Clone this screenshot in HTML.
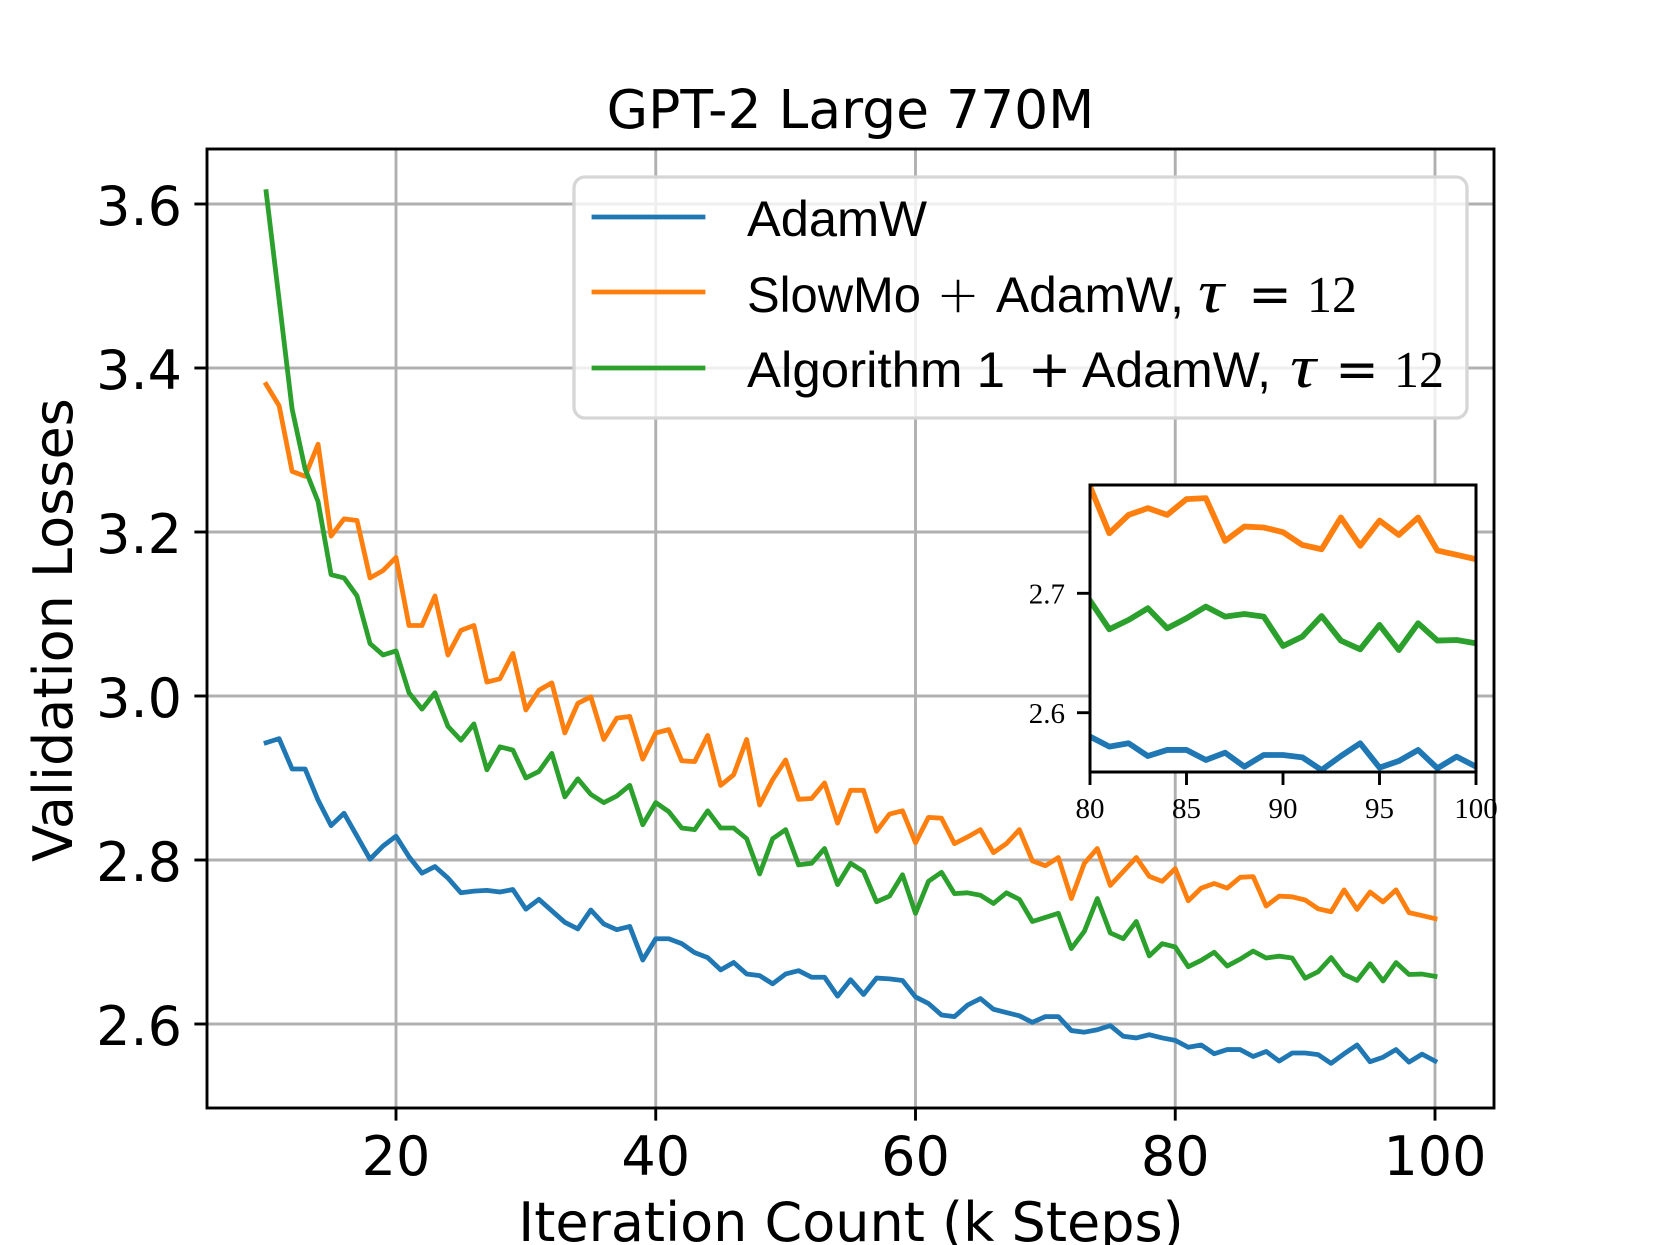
<!DOCTYPE html>
<html>
<head>
<meta charset="utf-8">
<style>
  html,body{margin:0;padding:0;background:#fff;}
  svg{display:block;}
</style>
</head>
<body>
<svg width="1660" height="1245" viewBox="0 0 1660 1245" xmlns="http://www.w3.org/2000/svg">
  <rect x="0" y="0" width="1660" height="1245" fill="#ffffff"/>
  <defs>
    <clipPath id="insetclip"><rect x="1090" y="485" width="386" height="287"/></clipPath>
    <clipPath id="mainclip"><rect x="207" y="149" width="1287" height="959"/></clipPath>
  </defs>

  <!-- Title -->
  <text x="850.5" y="128" text-anchor="middle" font-family="'DejaVu Sans', 'Liberation Sans', sans-serif" font-size="53.5" fill="#000">GPT-2 Large 770M</text>

  <!-- Grid -->
  <g stroke="#b0b0b0" stroke-width="2.9" fill="none">
    <line x1="396" y1="149" x2="396" y2="1108"/>
    <line x1="655.75" y1="149" x2="655.75" y2="1108"/>
    <line x1="915.5" y1="149" x2="915.5" y2="1108"/>
    <line x1="1175.25" y1="149" x2="1175.25" y2="1108"/>
    <line x1="1435" y1="149" x2="1435" y2="1108"/>
    <line x1="207" y1="204" x2="1494" y2="204"/>
    <line x1="207" y1="368" x2="1494" y2="368"/>
    <line x1="207" y1="532" x2="1494" y2="532"/>
    <line x1="207" y1="696" x2="1494" y2="696"/>
    <line x1="207" y1="860" x2="1494" y2="860"/>
    <line x1="207" y1="1024" x2="1494" y2="1024"/>
  </g>

  <!-- Main series -->
  <g clip-path="url(#mainclip)">
    <g transform="matrix(12.9875 0 0 -820 136.25 3156)" fill="none" stroke-linejoin="round" stroke-linecap="square">
      <polyline vector-effect="non-scaling-stroke" stroke="#1f77b4" stroke-width="4.8" points="10,2.943 11,2.948 12,2.911 13,2.911 14,2.873 15,2.842 16,2.857 17,2.829 18,2.801 19,2.817 20,2.829 21,2.804 22,2.784 23,2.792 24,2.778 25,2.760 26,2.762 27,2.763 28,2.761 29,2.764 30,2.740 31,2.752 32,2.738 33,2.724 34,2.716 35,2.739 36,2.722 37,2.715 38,2.719 39,2.678 40,2.704 41,2.704 42,2.698 43,2.687 44,2.681 45,2.666 46,2.675 47,2.661 48,2.659 49,2.649 50,2.661 51,2.665 52,2.657 53,2.657 54,2.634 55,2.654 56,2.636 57,2.656 58,2.655 59,2.653 60,2.633 61,2.625 62,2.611 63,2.609 64,2.623 65,2.631 66,2.618 67,2.614 68,2.610 69,2.602 70,2.609 71,2.609 72,2.592 73,2.590 74,2.593 75,2.598 76,2.585 77,2.583 78,2.587 79,2.583 80,2.580 81,2.5716 82,2.5744 83,2.5637 84,2.5688 85,2.5688 86,2.5604 87,2.5665 88,2.5548 89,2.5646 90,2.5646 91,2.5626 92,2.5520 93,2.5637 94,2.5744 95,2.5540 96,2.5595 97,2.5688 98,2.5535 99,2.5632 100,2.5548"/>
      <polyline vector-effect="non-scaling-stroke" stroke="#ff7f0e" stroke-width="4.8" points="10,3.380 11,3.354 12,3.274 13,3.268 14,3.307 15,3.195 16,3.216 17,3.214 18,3.144 19,3.153 20,3.169 21,3.086 22,3.086 23,3.122 24,3.050 25,3.080 26,3.086 27,3.017 28,3.021 29,3.052 30,2.983 31,3.007 32,3.016 33,2.955 34,2.991 35,2.999 36,2.947 37,2.973 38,2.975 39,2.923 40,2.955 41,2.959 42,2.921 43,2.920 44,2.952 45,2.891 46,2.904 47,2.947 48,2.867 49,2.898 50,2.922 51,2.874 52,2.875 53,2.894 54,2.845 55,2.885 56,2.885 57,2.835 58,2.856 59,2.860 60,2.821 61,2.852 62,2.851 63,2.820 64,2.828 65,2.837 66,2.809 67,2.820 68,2.837 69,2.799 70,2.793 71,2.803 72,2.753 73,2.796 74,2.814 75,2.769 76,2.786 77,2.803 78,2.780 79,2.774 80,2.7895 81,2.7503 82,2.7657 83,2.7713 84,2.7657 85,2.7789 86,2.7797 87,2.7439 88,2.7559 89,2.7551 90,2.7512 91,2.7405 92,2.7369 93,2.7635 94,2.7397 95,2.7609 96,2.7489 97,2.7635 98,2.7358 99,2.7322 100,2.7285"/>
      <polyline vector-effect="non-scaling-stroke" stroke="#2ca02c" stroke-width="4.8" points="10,3.615 11,3.483 12,3.350 13,3.277 14,3.237 15,3.148 16,3.144 17,3.122 18,3.064 19,3.050 20,3.055 21,3.004 22,2.984 23,3.004 24,2.963 25,2.946 26,2.966 27,2.910 28,2.938 29,2.934 30,2.900 31,2.908 32,2.930 33,2.877 34,2.899 35,2.880 36,2.870 37,2.878 38,2.891 39,2.843 40,2.870 41,2.859 42,2.839 43,2.837 44,2.860 45,2.839 46,2.839 47,2.826 48,2.783 49,2.826 50,2.837 51,2.794 52,2.796 53,2.814 54,2.770 55,2.796 56,2.786 57,2.749 58,2.756 59,2.782 60,2.735 61,2.774 62,2.785 63,2.759 64,2.760 65,2.757 66,2.747 67,2.760 68,2.752 69,2.725 70,2.730 71,2.735 72,2.692 73,2.713 74,2.753 75,2.711 76,2.704 77,2.725 78,2.683 79,2.698 80,2.6939 81,2.6699 82,2.6777 83,2.6875 84,2.6707 85,2.6791 86,2.6889 87,2.6805 88,2.6827 89,2.6805 90,2.6559 91,2.6637 92,2.6810 93,2.6604 94,2.6531 95,2.6735 96,2.6525 97,2.6749 98,2.6604 99,2.6609 100,2.6581"/>
    </g>
  </g>

  <!-- Main spines -->
  <rect x="207" y="149" width="1287" height="959" fill="none" stroke="#000" stroke-width="2.9"/>

  <!-- Ticks -->
  <g stroke="#000" stroke-width="2.9">
    <line x1="194.4" y1="204" x2="207" y2="204"/>
    <line x1="194.4" y1="368" x2="207" y2="368"/>
    <line x1="194.4" y1="532" x2="207" y2="532"/>
    <line x1="194.4" y1="696" x2="207" y2="696"/>
    <line x1="194.4" y1="860" x2="207" y2="860"/>
    <line x1="194.4" y1="1024" x2="207" y2="1024"/>
    <line x1="396" y1="1108" x2="396" y2="1120.6"/>
    <line x1="655.75" y1="1108" x2="655.75" y2="1120.6"/>
    <line x1="915.5" y1="1108" x2="915.5" y2="1120.6"/>
    <line x1="1175.25" y1="1108" x2="1175.25" y2="1120.6"/>
    <line x1="1435" y1="1108" x2="1435" y2="1120.6"/>
  </g>

  <!-- Tick labels -->
  <g font-family="'DejaVu Sans', 'Liberation Sans', sans-serif" font-size="54" fill="#000">
    <text x="182" y="225" text-anchor="end">3.6</text>
    <text x="182" y="389" text-anchor="end">3.4</text>
    <text x="182" y="553" text-anchor="end">3.2</text>
    <text x="182" y="717" text-anchor="end">3.0</text>
    <text x="182" y="881" text-anchor="end">2.8</text>
    <text x="182" y="1045" text-anchor="end">2.6</text>
    <text x="396" y="1175" text-anchor="middle">20</text>
    <text x="655.75" y="1175" text-anchor="middle">40</text>
    <text x="915.5" y="1175" text-anchor="middle">60</text>
    <text x="1175.25" y="1175" text-anchor="middle">80</text>
    <text x="1435" y="1175" text-anchor="middle">100</text>
  </g>

  <!-- Axis labels -->
  <text x="851" y="1241" text-anchor="middle" font-family="'DejaVu Sans', 'Liberation Sans', sans-serif" font-size="54" fill="#000">Iteration Count (k Steps)</text>
  <text transform="translate(72,630) rotate(-90)" x="0" y="0" text-anchor="middle" font-family="'DejaVu Sans', 'Liberation Sans', sans-serif" font-size="54" fill="#000">Validation Losses</text>

  <!-- Legend -->
  <rect x="574" y="177" width="893" height="241" rx="11" ry="11" fill="#ffffff" fill-opacity="0.8" stroke="#d6d6d6" stroke-width="3.3"/>
  <g stroke-width="4.8" stroke-linecap="square">
    <line x1="594" y1="217" x2="703" y2="217" stroke="#1f77b4"/>
    <line x1="594" y1="292" x2="703" y2="292" stroke="#ff7f0e"/>
    <line x1="594" y1="368" x2="703" y2="368" stroke="#2ca02c"/>
  </g>
  <g fill="#000">
    <text x="747" y="236" font-family="'Liberation Sans', sans-serif" font-size="50" textLength="180" lengthAdjust="spacingAndGlyphs">AdamW</text>

    <text x="747" y="312" font-family="'Liberation Sans', sans-serif" font-size="50" textLength="174" lengthAdjust="spacingAndGlyphs">SlowMo</text>
    <text x="958" y="312" text-anchor="middle" font-family="'DejaVu Sans', sans-serif" font-size="52" font-weight="200">+</text>
    <text x="996" y="312" font-family="'Liberation Sans', sans-serif" font-size="50" textLength="188" lengthAdjust="spacingAndGlyphs">AdamW,</text>
    <text x="1198" y="312" font-family="'Liberation Serif', 'DejaVu Serif', serif" font-style="italic" font-size="60" textLength="26" lengthAdjust="spacingAndGlyphs">τ</text>
    <text x="1270" y="312" text-anchor="middle" font-family="'DejaVu Sans', sans-serif" font-size="52">=</text>
    <text x="1307" y="312" font-family="'Liberation Serif', 'DejaVu Serif', serif" font-size="52" textLength="50" lengthAdjust="spacingAndGlyphs">12</text>

    <text x="747" y="387" font-family="'Liberation Sans', sans-serif" font-size="50" textLength="258" lengthAdjust="spacingAndGlyphs">Algorithm 1</text>
    <text x="1049.5" y="387" text-anchor="middle" font-family="'DejaVu Sans', sans-serif" font-size="52">+</text>
    <text x="1082" y="387" font-family="'Liberation Sans', sans-serif" font-size="50" textLength="189" lengthAdjust="spacingAndGlyphs">AdamW,</text>
    <text x="1290" y="387" font-family="'Liberation Serif', 'DejaVu Serif', serif" font-style="italic" font-size="60" textLength="26" lengthAdjust="spacingAndGlyphs">τ</text>
    <text x="1357" y="387" text-anchor="middle" font-family="'DejaVu Sans', sans-serif" font-size="52">=</text>
    <text x="1394" y="387" font-family="'Liberation Serif', 'DejaVu Serif', serif" font-size="52" textLength="50" lengthAdjust="spacingAndGlyphs">12</text>
  </g>

  <!-- Inset -->
  <rect x="1090" y="485" width="386" height="287" fill="#ffffff"/>
  <g clip-path="url(#insetclip)">
    <g transform="matrix(19.3 0 0 -1194 -454 3817.1)" fill="none" stroke-linejoin="round" stroke-linecap="square">
      <polyline vector-effect="non-scaling-stroke" stroke="#1f77b4" stroke-width="5.8" points="79,2.583 80,2.580 81,2.5716 82,2.5744 83,2.5637 84,2.5688 85,2.5688 86,2.5604 87,2.5665 88,2.5548 89,2.5646 90,2.5646 91,2.5626 92,2.5520 93,2.5637 94,2.5744 95,2.5540 96,2.5595 97,2.5688 98,2.5535 99,2.5632 100,2.5548"/>
      <polyline vector-effect="non-scaling-stroke" stroke="#ff7f0e" stroke-width="5.8" points="79,2.774 80,2.7895 81,2.7503 82,2.7657 83,2.7713 84,2.7657 85,2.7789 86,2.7797 87,2.7439 88,2.7559 89,2.7551 90,2.7512 91,2.7405 92,2.7369 93,2.7635 94,2.7397 95,2.7609 96,2.7489 97,2.7635 98,2.7358 99,2.7322 100,2.7285"/>
      <polyline vector-effect="non-scaling-stroke" stroke="#2ca02c" stroke-width="5.8" points="79,2.698 80,2.6939 81,2.6699 82,2.6777 83,2.6875 84,2.6707 85,2.6791 86,2.6889 87,2.6805 88,2.6827 89,2.6805 90,2.6559 91,2.6637 92,2.6810 93,2.6604 94,2.6531 95,2.6735 96,2.6525 97,2.6749 98,2.6604 99,2.6609 100,2.6581"/>
    </g>
  </g>
  <rect x="1090" y="485" width="386" height="287" fill="none" stroke="#000" stroke-width="3"/>
  <g stroke="#000" stroke-width="2.9">
    <line x1="1090" y1="772" x2="1090" y2="785"/>
    <line x1="1186.5" y1="772" x2="1186.5" y2="785"/>
    <line x1="1283" y1="772" x2="1283" y2="785"/>
    <line x1="1379.5" y1="772" x2="1379.5" y2="785"/>
    <line x1="1476" y1="772" x2="1476" y2="785"/>
    <line x1="1077" y1="593.3" x2="1090" y2="593.3"/>
    <line x1="1077" y1="712.7" x2="1090" y2="712.7"/>
  </g>
  <g font-family="'Liberation Serif', 'DejaVu Serif', serif" font-size="29" fill="#000">
    <text x="1090" y="818" text-anchor="middle">80</text>
    <text x="1186.5" y="818" text-anchor="middle">85</text>
    <text x="1283" y="818" text-anchor="middle">90</text>
    <text x="1379.5" y="818" text-anchor="middle">95</text>
    <text x="1476" y="818" text-anchor="middle">100</text>
    <text x="1065" y="603.5" text-anchor="end">2.7</text>
    <text x="1065" y="723" text-anchor="end">2.6</text>
  </g>
</svg>
</body>
</html>
